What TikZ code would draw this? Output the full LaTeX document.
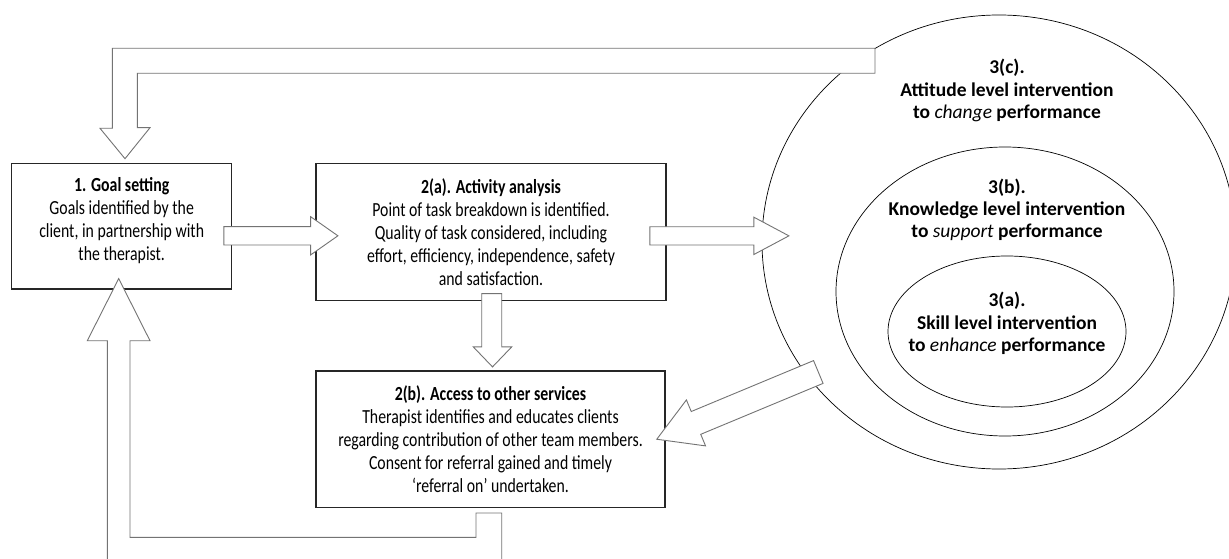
\documentclass[tikz,border=0pt]{standalone}
\usepackage{fontspec}
\setmainfont{Carlito}[FakeStretch=0.79]
\newfontfamily\ringfont{Carlito}[FakeStretch=1.0]
\usetikzlibrary{calc,shapes.geometric}

\tikzset{
  box/.style={draw=black!85, line width=1.2pt, fill=white, align=center,
    inner sep=0pt, font=\fontsize{20}{23}\selectfont},
  ring/.style={draw, ellipse, line width=0.7pt, inner sep=0pt},
  ringtext/.style={align=center, font=\ringfont\bfseries\fontsize{19.5}{22.4}\selectfont},
  fat/.style={draw=black!55, line width=0.9pt, fill=white, line join=miter}
}

\begin{document}
\begin{tikzpicture}[x=1pt,y=1pt]
  \useasboundingbox (0,0) rectangle (1229,558);
  \clip (0,0) rectangle (1229,558);

  % the three levels of intervention
  \node[ring, minimum width=474pt, minimum height=454pt] (att) at (999,316) {};
  \node[ring, minimum width=338pt, minimum height=289pt] (know) at (1005,266.5) {};
  \node[ring, minimum width=238pt, minimum height=151pt] (skill) at (1007,226.5) {};

  \node[ringtext] (atttxt) at (1007,467.2)
    {3(c).\\ Attitude level intervention\\ to {\mdseries\itshape change} performance};
  \node[ringtext] (knowtxt) at (1007,348.1)
    {3(b).\\ Knowledge level intervention\\ to {\mdseries\itshape support} performance};
  \node[ringtext] (skilltxt) at (1007,234.7)
    {3(a).\\ Skill level intervention\\ to {\mdseries\itshape enhance} performance};

  % boxes
  \node[box, minimum width=220pt, minimum height=125.7pt] (goal) at (121.7,331.85)
    {{\bfseries 1. Goal setting}\\ Goals identified by the\\ client, in partnership with\\
     the therapist.\\[-8pt]\mbox{}};
  \node[box, minimum width=350pt, minimum height=137.4pt] (activity) at (491,326)
    {{\bfseries 2(a). Activity analysis}\\ Point of task breakdown is identified.\\
     Quality of task considered, including\\ effort, efficiency, independence, safety\\
     and satisfaction.};
  \node[box, minimum width=349pt, minimum height=136.3pt] (access) at (490.5,118.85)
    {{\bfseries 2(b). Access to other services}\\ Therapist identifies and educates clients\\
     regarding contribution of other team members.\\ Consent for referral gained and timely\\
     `referral on' undertaken.};

  % goal -> activity analysis
  \draw[fat] ($(goal.east)+(-8.4,-0.5)$) -- ++(86.7,0) -- ++(0,10) -- ++(27.3,-19.15)
    -- ++(-27.3,-19.15) -- ++(0,10) -- ++(-86.7,0) -- cycle;
  % activity analysis -> interventions
  \draw[fat] ($(activity.east)+(-16.7,5.3)$) -- ++(104,0) -- ++(0,9.5) -- ++(35,-18.65)
    -- ++(-35,-18.65) -- ++(0,9.5) -- ++(-104,0) -- cycle;
  % activity analysis -> other services
  \draw[fat] ($(activity.south)+(-9.3,7.7)$) -- ++(0,-53.3) -- ++(-8.4,0) -- ++(19.2,-20)
    -- ++(19.2,20) -- ++(-10,0) -- ++(0,53.3) -- cycle;

  % interventions -> other services
  \coordinate (dtail) at (818.3,186);
  \draw[fat, shift={(dtail)}, rotate=202.6] (0,12.35) -- (132.5,12.35) -- (132.5,24.9)
    -- (175,0) -- (132.5,-24.9) -- (132.5,-12.35) -- (0,-12.35) -- cycle;

  % feedback from attitude level to goal setting
  \coordinate (fbtip) at ($(goal.north)+(3.3,4)$);
  \draw[fat] (fbtip) -- ++(25,31) -- ++(-12.7,0) |- (875,484.7) -- ++(0,25)
    -| (112.3,429.7) -- ++(-12.3,0) -- cycle;

  % referral on, back to goal setting
  \coordinate (uptip) at ($(goal.south)+(-3,11)$);
  \draw[fat] (uptip) -- (150,217.3) -- (130,217.3) -- (130,20.7) -- (476,20.7) -- (476,45)
    -- (501.7,45) -- (501.7,-3) -- (107.3,-3) -- (107.3,217.3) -- (87.3,217.3) -- cycle;
\end{tikzpicture}
\end{document}
